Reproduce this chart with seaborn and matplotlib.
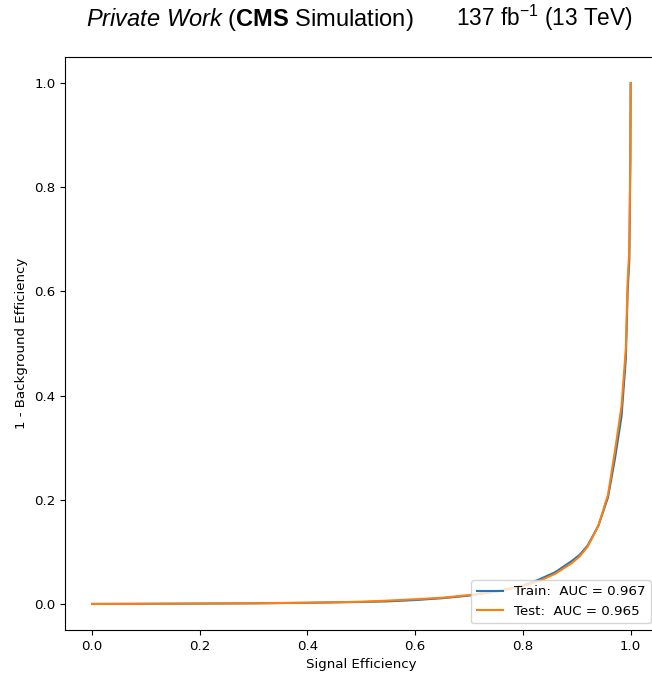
import matplotlib
matplotlib.use("Agg")
import matplotlib.pyplot as plt
import seaborn as sns
import pandas as pd

# ROC data
sig_eff = [0.0, 0.1, 0.2, 0.3, 0.4, 0.5, 0.55, 0.6, 0.65, 0.7, 0.75, 0.8, 0.83, 0.86,
           0.89, 0.905, 0.92, 0.94, 0.958, 0.971, 0.983, 0.991, 0.9944, 0.9975, 0.9994, 1.0]
bkg_train = [0.0, 0.0003, 0.0007, 0.0012, 0.0022, 0.0038, 0.005, 0.0075, 0.011, 0.016,
             0.024, 0.035, 0.047, 0.061, 0.082, 0.094, 0.112, 0.15, 0.205, 0.28, 0.36,
             0.47, 0.60, 0.66, 0.85, 1.0]
bkg_test = [0.0, 0.0003, 0.0007, 0.0013, 0.0024, 0.0042, 0.0065, 0.009, 0.012, 0.017,
            0.024, 0.034, 0.044, 0.058, 0.078, 0.091, 0.11, 0.15, 0.21, 0.295, 0.38,
            0.49, 0.62, 0.68, 0.86, 1.0]
labels = ["Train:  AUC = 0.967", "Test:  AUC = 0.965"]

plt.rcParams['mathtext.fontset'] = 'custom'
plt.rcParams['mathtext.rm'] = 'Liberation Sans'
plt.rcParams['mathtext.it'] = 'Liberation Sans:italic'
plt.rcParams['mathtext.bf'] = 'Liberation Sans:bold'
fs = 9.6
plt.rcParams['font.size'] = fs
plt.rcParams['xtick.labelsize'] = fs
plt.rcParams['ytick.labelsize'] = fs
plt.rcParams['axes.labelsize'] = fs

fig = plt.figure(figsize=(6.52, 6.74), dpi=100)
ax = fig.add_axes([65.1 / 652, 44 / 674, 592.5 / 652, 573 / 674])

df_train = pd.DataFrame({"x": sig_eff, "y": bkg_train})
df_test = pd.DataFrame({"x": sig_eff, "y": bkg_test})
sns.lineplot(data=df_train, x="x", y="y", ax=ax, color="tab:blue", label=labels[0],
             sort=False, estimator=None, linewidth=1.5)
sns.lineplot(data=df_test, x="x", y="y", ax=ax, color="tab:orange", label=labels[1],
             sort=False, estimator=None, linewidth=1.5)

ax.set_xlim(-0.05, 1.05)
ax.set_ylim(-0.05, 1.05)
ax.set_xticks([0.0, 0.2, 0.4, 0.6, 0.8, 1.0])
ax.set_yticks([0.0, 0.2, 0.4, 0.6, 0.8, 1.0])
ax.set_xlabel("Signal Efficiency")
ax.set_ylabel("1 - Background Efficiency")
ax.legend(loc="lower right", fontsize=fs)

fig.text(86 / 652, 1 - 26 / 674, r"$\it{Private\ Work}$ ($\bf{CMS}$ Simulation)",
         fontsize=17, family="Liberation Sans", ha="left", va="baseline")
fig.text(633 / 652, 1 - 26 / 674, r"137 fb$^{-1}$ (13 TeV)",
         fontsize=16.3, family="Liberation Sans", ha="right", va="baseline")

fig.savefig("out.png", dpi=100)
